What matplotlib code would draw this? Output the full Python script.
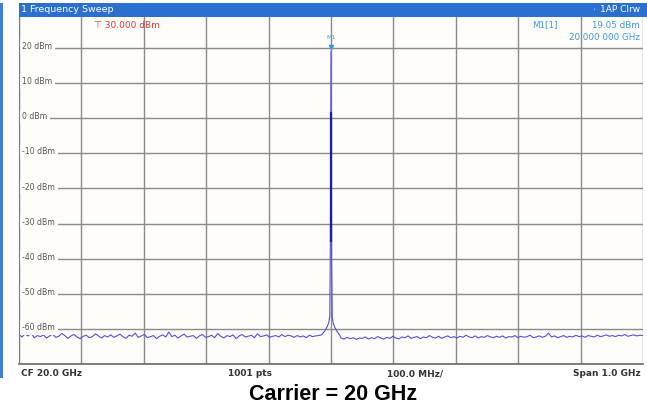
import numpy as np
import matplotlib
matplotlib.use("Agg")
import matplotlib.pyplot as plt
from matplotlib.patches import Rectangle

# --- data ---
center_ghz = 20.0
span_ghz = 1.0
ref_level = 30.0
level_labels = [20, 10, 0, -10, -20, -30, -40, -50, -60]

noise_left = [
    -61.6, -62.3, -61.4, -62.0, -61.2, -62.5, -61.9, -62.2, -61.7, -62.6,
    -62.0, -61.5, -62.4, -62.1, -61.3, -61.9, -62.7, -62.0, -61.6, -62.3,
    -62.8, -62.1, -61.8, -62.5, -62.2, -61.4, -62.0, -62.6, -61.9, -62.3,
    -61.7, -62.4, -62.0, -61.5, -62.2, -62.7, -61.8, -62.1, -61.2, -62.4,
    -62.0, -61.6, -62.5, -62.2, -61.9, -62.8, -62.1, -61.7, -62.3, -60.9,
    -62.2, -61.8, -62.6, -62.0, -61.5, -62.3, -62.1, -61.9, -62.7, -62.0,
    -61.6, -62.4, -62.2, -61.8, -62.5, -61.3, -62.1, -62.6, -61.9, -62.2,
    -61.7, -62.8, -62.0, -61.6, -62.3, -62.1, -61.8, -62.5, -61.4, -62.2,
    -62.0, -61.7, -62.4, -62.1, -61.9, -62.3, -61.6, -62.2, -61.8, -62.0,
    -62.4, -61.9, -62.3, -62.0, -62.5, -61.8, -62.2, -62.0, -61.9, -61.7,
]
peak_offsets_mhz = [-14, -12, -10, -8, -6, -4, -3, -2, -1, 0, 1, 2, 3, 4, 6, 8, 10, 12, 14]
peak_levels = [-61.5, -61.0, -60.6, -60.0, -59.3, -58.4, -57.6, -56.2, -35.0, 19.05,
               -40.0, -56.5, -57.8, -58.6, -59.5, -60.2, -60.8, -61.3, -61.8]
noise_right = [
    -62.6, -62.9, -62.4, -62.8, -62.5, -63.0, -62.6, -62.7, -62.3, -62.9,
    -62.5, -62.8, -62.2, -62.6, -62.9, -62.4, -62.7, -62.1, -62.6, -62.8,
    -62.3, -62.5, -62.0, -62.7, -62.4, -62.2, -62.8, -62.3, -62.5, -61.9,
    -62.4, -62.6, -62.1, -62.7, -62.3, -62.0, -62.5, -62.2, -62.6, -62.1,
    -62.4, -61.8, -62.3, -62.5, -62.0, -62.6, -62.2, -62.4, -61.9, -62.3,
    -62.5, -62.1, -62.4, -62.0, -62.6, -62.2, -62.3, -61.9, -62.5, -62.1,
    -62.4, -62.2, -61.8, -62.5, -62.3, -62.0, -62.4, -62.1, -61.2, -62.3,
    -62.0, -62.5, -62.2, -61.9, -62.4, -62.1, -62.3, -61.8, -62.2, -62.0,
    -62.4, -61.9, -62.1, -62.3, -61.8, -62.2, -62.0, -61.7, -62.1, -61.9,
    -62.2, -61.8, -62.0, -61.6, -62.1, -61.9, -61.7, -62.0, -61.8, -61.9,
]
peak_core = [1.5, -35.0]

f_left = np.linspace(center_ghz - span_ghz / 2, center_ghz - 0.015, len(noise_left))
f_peak = center_ghz + np.array(peak_offsets_mhz) / 1000.0
f_right = np.linspace(center_ghz + 0.016, center_ghz + span_ghz / 2, len(noise_right))
freqs = np.concatenate([f_left, f_peak, f_right])
levels = np.concatenate([noise_left, peak_levels, noise_right])

W, H = 647, 409
fig = plt.figure(figsize=(W / 100, H / 100), dpi=100)
fig.patch.set_facecolor("white")

font = ["Liberation Sans Narrow", "DejaVu Sans"]
txt_gray = "#555555"
marker_blue = "#3b9ad9"

# plot area in pixels: x 19..643, y 13..364
ax = fig.add_axes([19 / W, 1 - 364 / H, (643 - 19) / W, (364 - 13) / H])
ax.set_facecolor("#fffdfa")
ax.set_xlim(center_ghz - span_ghz / 2, center_ghz + span_ghz / 2)
ax.set_ylim(ref_level - 100, ref_level)
ax.set_xticks(np.linspace(center_ghz - span_ghz / 2, center_ghz + span_ghz / 2, 11))
ax.set_yticks(np.arange(ref_level - 100, ref_level + 1, 10))
ax.tick_params(length=0, labelbottom=False, labelleft=False)
ax.grid(True, color="#8a8a8a", lw=1.0)
for side in ["top", "right"]:
    ax.spines[side].set_visible(False)
ax.spines["left"].set_color("#5a7fc0")
ax.spines["left"].set_zorder(7)
ax.spines["bottom"].set_color("#6a6a6a")
ax.spines["bottom"].set_linewidth(1.2)

ax.plot(freqs, levels, color="#5252d6", lw=0.8, zorder=3)
ax.plot([center_ghz, center_ghz], peak_core, color="#1d1da8", lw=1.6, zorder=4)

# level labels on the grid lines
for lv in level_labels:
    ax.text(center_ghz - span_ghz / 2 + 0.005, lv + 0.4, "%d dBm" % lv, fontsize=5.6,
            family=font, color=txt_gray, va="center", ha="left", zorder=5,
            bbox=dict(facecolor="#fffdfa", edgecolor="none", pad=2.0))

# marker M1
pk = int(np.argmax(levels))
ax.plot(freqs[pk], levels[pk] + 1.3, marker="v", ms=3, color=marker_blue, zorder=6)
ax.text(freqs[pk], levels[pk] + 3.2, "M1", fontsize=4.5, family=font,
        color=marker_blue, ha="center", va="bottom", zorder=6)

# header bar
fig.patches.append(Rectangle((19 / W, 1 - 17 / H), (W - 19) / W, 14 / H,
                             transform=fig.transFigure, facecolor="#2b6fcf",
                             edgecolor="none", zorder=10))
fig.patches.append(Rectangle((0, 1 - 378 / H), 3 / W, 375 / H,
                             transform=fig.transFigure, facecolor="#3d7fd8",
                             edgecolor="none", zorder=10))
fig.text(21 / W, 1 - 10 / H, "1 Frequency Sweep", fontsize=6.8, family=font,
         color="white", va="center", ha="left", zorder=11)
fig.text(640 / W, 1 - 10 / H, "1AP Clrw", fontsize=6.5, family=font,
         color="white", va="center", ha="right", zorder=11)
fig.text(594 / W, 1 - 10 / H, "\u2022", fontsize=3.5, family=font,
         color="#9cc4f0", va="center", ha="center", zorder=11)

# top info texts
fig.text(94 / W, 1 - 25 / H, "\u22a4 30.000 dBm", fontsize=6.5, family=font,
         color="#e0382e", va="center", ha="left")
fig.text(558 / W, 1 - 25 / H, "M1[1]", fontsize=6.3, family=font,
         color=marker_blue, va="center", ha="right")
fig.text(640 / W, 1 - 25 / H, "19.05 dBm", fontsize=6.3, family=font,
         color=marker_blue, va="center", ha="right")
fig.text(640 / W, 1 - 37 / H, "20.000 000 GHz", fontsize=6.3, family=font,
         color=marker_blue, va="center", ha="right")

# bottom info row
fig.text(21 / W, 1 - 374 / H, "CF 20.0 GHz", fontsize=6.5, family=font,
         color="#333333", va="center", ha="left", weight="bold")
fig.text(250 / W, 1 - 374 / H, "1001 pts", fontsize=6.5, family=font,
         color="#333333", va="center", ha="center", weight="bold")
fig.text(415 / W, 1 - 374 / H, "100.0 MHz/", fontsize=6.5, family=font,
         color="#333333", va="center", ha="center", weight="bold")
fig.text(641 / W, 1 - 374 / H, "Span 1.0 GHz", fontsize=6.5, family=font,
         color="#333333", va="center", ha="right", weight="bold")

fig.text(333 / W, 1 - 395 / H, "Carrier = 20 GHz", fontsize=15.5, family="Liberation Sans",
         weight="bold", color="black", ha="center", va="center")

fig.savefig("out.png", dpi=100)
